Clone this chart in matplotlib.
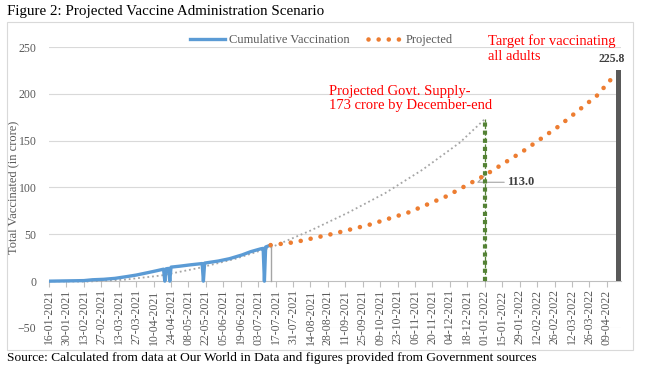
import matplotlib
matplotlib.use("Agg")
import matplotlib.pyplot as plt
import matplotlib.dates as mdates
import matplotlib.patches as patches
import pandas as pd

plt.rcParams['font.family'] = ['Liberation Serif', 'DejaVu Serif']

# cumulative vaccination (crore); zero values are data gaps
actual_dates = ['2021-01-16', '2021-01-30', '2021-02-13', '2021-02-20', '2021-03-01',
                '2021-03-10', '2021-03-20', '2021-03-27', '2021-04-05', '2021-04-12',
                '2021-04-18', '2021-04-19', '2021-04-20', '2021-04-22', '2021-04-23',
                '2021-04-24', '2021-05-01', '2021-05-10', '2021-05-19', '2021-05-20',
                '2021-05-21', '2021-06-01', '2021-06-10', '2021-06-20', '2021-06-27',
                '2021-07-05', '2021-07-07', '2021-07-08', '2021-07-09', '2021-07-12',
                '2021-07-13']
actual_vals = [0.0, 0.3, 0.6, 1.5, 2.0,
               3.0, 5.0, 6.5, 9.0, 11.0,
               12.8, 0.0, 13.2, 13.6, 0.0,
               15.0, 16.0, 17.5, 18.8, 0.0,
               19.3, 21.5, 24.0, 28.0, 31.5,
               34.5, 35.0, 0.0, 36.5, 38.0,
               38.5]

# projected administration
proj_dates = ['2021-07-13', '2021-08-01', '2021-09-01', '2021-10-01', '2021-11-01',
              '2021-12-01', '2022-01-01', '2022-02-01', '2022-03-01', '2022-04-01',
              '2022-04-16']
proj_vals = [38.5, 41.5, 50.5, 60.5, 73.5, 90.5, 113.0, 139.0, 165.0, 198.0, 221.0]

# projected government supply trend
supply_dates = ['2021-01-16', '2021-02-15', '2021-03-17', '2021-04-16', '2021-05-16',
                '2021-06-15', '2021-07-15', '2021-08-14', '2021-09-13', '2021-10-13',
                '2021-11-12', '2021-12-12', '2022-01-01']
supply_vals = [0.0, -0.5, 1.5, 6.0, 14.0, 24.0, 37.0, 54.0, 73.0, 94.0, 119.0, 148.0, 173.0]

supply_end_date = '2022-01-01'
supply_end = 173.0
proj_at_supply_end = 113.0
target_date = '2022-04-18'
target = 225.8

actual_dates = pd.to_datetime(actual_dates)
proj_dates = pd.to_datetime(proj_dates)
supply_dates = pd.to_datetime(supply_dates)
supply_end_date = pd.Timestamp(supply_end_date)
target_date = pd.Timestamp(target_date)

W, H = 648, 375
fig = plt.figure(figsize=(W / 100, H / 100), dpi=100)
ax = fig.add_axes([49 / W, (H - 328) / H, 572 / W, 281 / H])

# chart border
fig.patches.append(patches.Rectangle((7 / W, (H - 350) / H), 626 / W, 328 / H,
                                     transform=fig.transFigure, fill=False,
                                     edgecolor='#D9D9D9', lw=0.8))

grey = '#595959'
ax.plot(supply_dates, supply_vals, color='#A5A5A5', lw=1.3,
        linestyle=(0, (1, 1.6)), zorder=3)
ax.plot(actual_dates, actual_vals, color='#5B9BD5', lw=2.4, zorder=4,
        label='Cumulative Vaccination')
ax.plot(proj_dates, proj_vals, color='#ED7D31', lw=3.3, zorder=4,
        linestyle=(0, (0.01, 2.2)), dash_capstyle='round', label='Projected')
# end of actual data marker line
ax.plot([actual_dates[-1], actual_dates[-1]], [0, actual_vals[-1]],
        color='#A5A5A5', lw=1.0, zorder=3)
# govt supply line
ax.plot([supply_end_date, supply_end_date], [0, supply_end], color='#548235',
        lw=0.9, linestyle='--', zorder=5)
ax.plot([supply_end_date, supply_end_date], [0, supply_end], color='#548235',
        lw=3.0, linestyle=(0, (1, 0.95)), zorder=5)
# target bar
ax.bar([target_date], [target], width=4, color=grey, zorder=5)

ax.annotate(f'{proj_at_supply_end:.1f}', xy=(supply_end_date, proj_at_supply_end),
            xytext=(16, -5), textcoords='offset points', ha='left', va='center',
            fontsize=9, fontweight='bold', color='#404040',
            arrowprops=dict(arrowstyle='-', color='#A5A5A5', lw=0.8,
                            shrinkA=0, shrinkB=0, connectionstyle='angle,angleA=0,angleB=45'))
ax.annotate(f'{target:.1f}', xy=(target_date, target), xytext=(5, 8),
            textcoords='offset points', ha='right', va='center',
            fontsize=8.5, fontweight='bold', color='#404040')

fig.text(329 / W, (H - 85) / H, 'Projected Govt. Supply-\n173 crore by December-end',
         color='red', fontsize=10.5, ha='left', va='top', linespacing=1.15)
fig.text(488 / W, (H - 41) / H, 'Target for vaccinating',
         color='red', fontsize=10.5, ha='left', va='center')
fig.text(488 / W, (H - 57) / H, 'all adults',
         color='red', fontsize=10.5, ha='left', va='center')

start = pd.Timestamp('2021-01-16')
ax.set_xlim(start, start + pd.Timedelta(days=459.4))
ax.set_ylim(-50, 250)
ticks = pd.date_range('2021-01-16', '2022-04-09', freq='14D')
ax.set_xticks(ticks)
ax.xaxis.set_major_formatter(mdates.DateFormatter('%d-%m-%Y'))
ax.tick_params(axis='x', labelrotation=90, labelsize=8.5, labelcolor=grey,
               length=4, color='#BFBFBF', width=0.8, pad=2)
ax.set_yticks(range(-50, 251, 50))
ax.tick_params(axis='y', length=0, labelsize=8.5, labelcolor=grey, pad=9)

for v in range(-50, 251, 50):
    if v != 0:
        ax.axhline(v, color='#D9D9D9', lw=0.8, zorder=0)

for s in ['top', 'right', 'left']:
    ax.spines[s].set_visible(False)
ax.spines['bottom'].set_position(('data', 0))
ax.spines['bottom'].set_color('#BFBFBF')
ax.spines['bottom'].set_linewidth(0.8)

ax.set_ylabel('Total Vaccinated (in crore)', fontsize=9, color=grey)
ax.yaxis.set_label_coords(-0.052, 0.5)

ax.legend(loc='center', bbox_to_anchor=(0.477, 1.025), ncol=2, frameon=False,
          fontsize=9, labelcolor=grey, handlelength=2.8, handletextpad=0.25,
          columnspacing=1.5, borderaxespad=0)

fig.text(7 / W, (H - 12) / H, 'Figure 2: Projected Vaccine Administration Scenario',
         fontsize=10.8, ha='left', va='center', color='black')
fig.text(7 / W, (H - 358) / H,
         'Source: Calculated from data at Our World in Data and figures provided from Government sources',
         fontsize=9.6, ha='left', va='center', color='black')

fig.savefig('out.png', dpi=100)
